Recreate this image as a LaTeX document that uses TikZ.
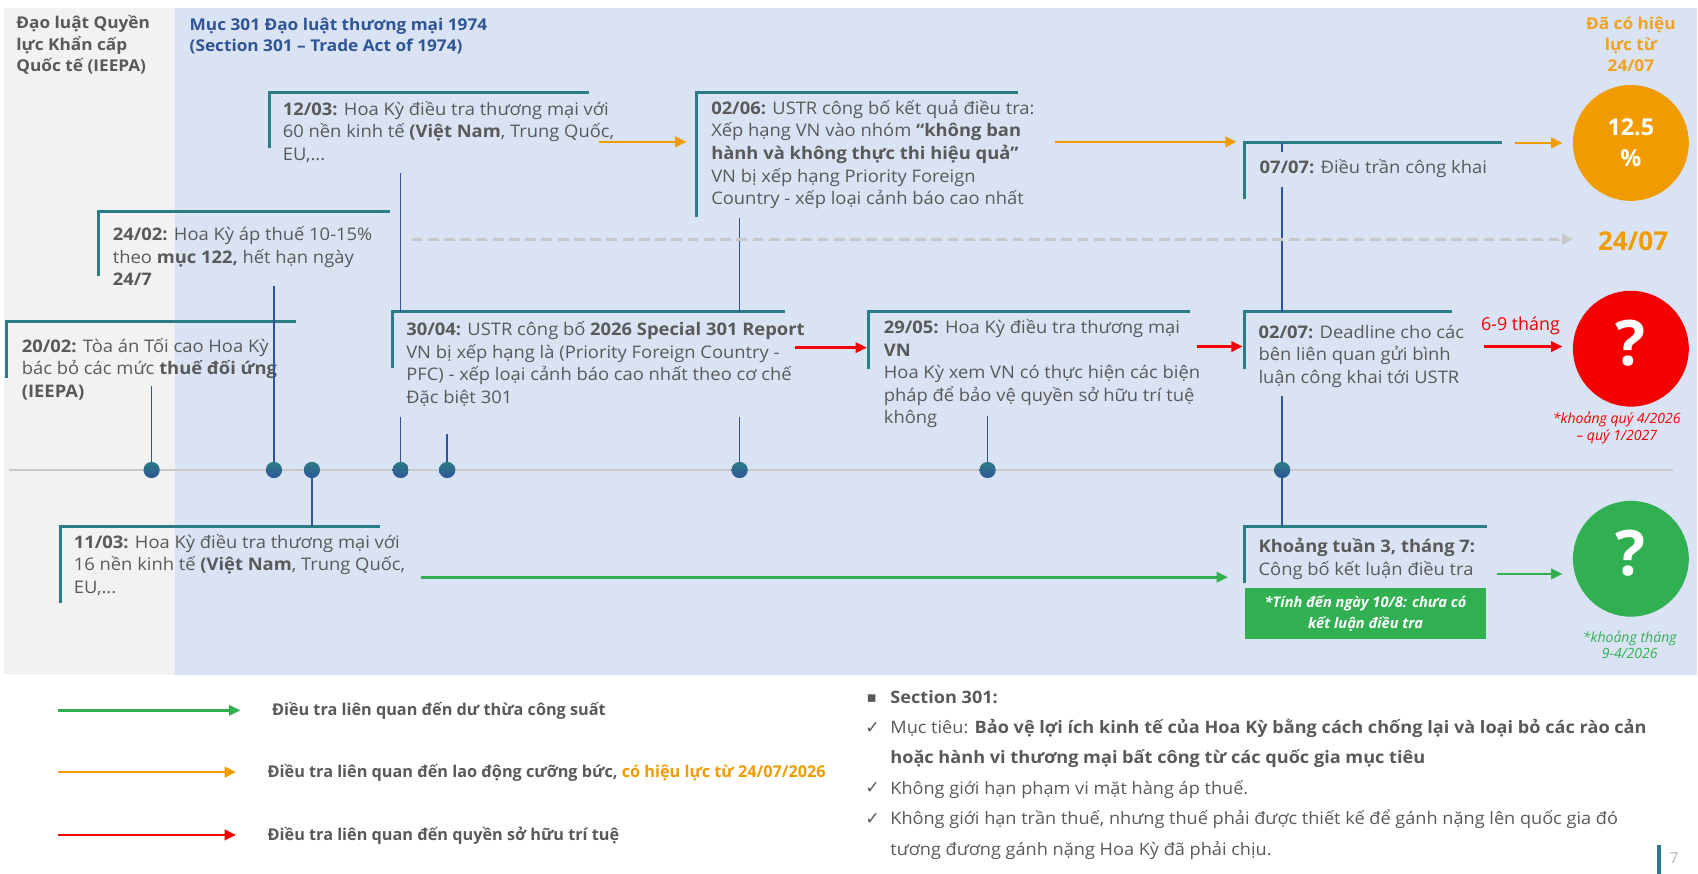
\documentclass[tikz,border=0pt]{standalone}
\usepackage{fontspec}
\setmainfont{Open Sans}
\newfontfamily\bodyfont{Open Sans}[FakeStretch=1.06]
\newfontfamily\symfont{DejaVu Sans}
\usetikzlibrary{arrows.meta}
\definecolor{bggray}{HTML}{F2F2F2}
\definecolor{bgblue}{HTML}{DAE3F3}
\definecolor{txtgray}{HTML}{595959}
\definecolor{boxteal}{HTML}{2B7C87}
\definecolor{stemblue}{HTML}{2F5597}
\definecolor{axisgray}{HTML}{C9C9C9}
\definecolor{dashgray}{HTML}{C8C8C8}
\definecolor{lineorange}{HTML}{F09B00}
\definecolor{hdorange}{HTML}{F0A21E}
\definecolor{linered}{HTML}{F50000}
\definecolor{linegreen}{HTML}{31B052}
\newcommand{\hs}{\rule{0pt}{16pt}}
\newcommand{\ds}{\rule[-8pt]{0pt}{8pt}}
\newcommand{\fsz}[2]{\fontsize{#1}{#2}\selectfont}

\begin{document}
\begin{tikzpicture}[x=1pt, y=-1pt]
	\tikzstyle{txt} = [anchor=north west, inner xsep=0pt, inner ysep=4pt, align=left, text=txtgray, font=\bodyfont\fsz{16}{20.8}]
	\tikzstyle{dot} = [circle, inner sep=0pt, minimum size=15pt, top color=boxteal, bottom color=stemblue]
	\tikzstyle{stem} = [stemblue, line width=1.5pt]
	\tikzstyle{bar} = [boxteal, line width=2.8pt]
	\tikzstyle{flow} = [line width=2.5pt, -{Triangle[length=10.5pt, width=9.5pt]}]
	\tikzstyle{ball} = [circle, inner sep=0pt, minimum size=107pt, text=white, font=\bfseries\fsz{58}{58}]
	\tikzstyle{note} = [anchor=north, align=center, inner sep=0pt, font=\itshape\fsz{13}{16}]
	\useasboundingbox (0,0) rectangle (1568,807);
	\fill[bggray] (4,7) rectangle (162,623); \fill[bgblue] (162,7) rectangle (1567,623);
	
	\node[txt, inner ysep=0pt, font=\bodyfont\bfseries\fsz{15}{20}] (tieepa) at (15,10) {\hs Đạo luật Quyền\\lực Khẩn cấp\\Quốc tế (IEEPA)};
	\node[txt, inner ysep=0pt, text=stemblue, font=\bodyfont\bfseries\fsz{15}{19.5}] (tmuc) at (175,11.5) {\hs Mục 301 Đạo luật thương mại 1974\\(Section 301 – Trade Act of 1974)};
	\node[anchor=north, align=center, inner sep=0pt, text=hdorange, font=\bodyfont\bfseries\fsz{15}{19.5}] (thieuluc) at (1506,11) {\hs Đã có hiệu\\lực từ\\24/07};
	
	\coordinate (c1203) at (249,85); \coordinate (c0206) at (643,85); \coordinate (c0707) at (1149,132); \coordinate (c2402) at (91,195); \coordinate (c2002) at (6,297);
	\coordinate (c3004) at (362,288); \coordinate (c2905) at (802,288); \coordinate (c0207) at (1149,288); \coordinate (c1103) at (56,486); \coordinate (ckhoang) at (1149,486);
	\foreach \c/\w/\h in {c1203/295/52, c0206/297/115, c0707/238/52, c2402/269/60, c2002/267/52, c3004/363/52, c2905/297/53, c0207/192/53, c1103/295/71, ckhoang/224/52}
		\draw[bar] (\c) ++(0,\h) -- (\c) -- ++(\w,0);
	
	\node[txt] (t1203) at (261,86) {\hs\textbf{12/03:} Hoa Kỳ điều tra thương mại với\\60 nền kinh tế \textbf{(Việt Nam}, Trung Quốc,\\EU,...\ds};
	\node[txt] (t0206) at (656.6,85.5) {\hs\textbf{02/06:} USTR công bố kết quả điều tra:\\Xếp hạng VN vào nhóm \textbf{“không ban}\\\textbf{hành và không thực thi hiệu quả”}\\VN bị xếp hạng Priority Foreign\\Country - xếp loại cảnh báo cao nhất\ds};
	\node[txt] (t0707) at (1163,140) {\hs\textbf{07/07:} Điều trần công khai\ds};
	\node[txt] (t2402) at (104,202) {\hs\textbf{24/02:} Hoa Kỳ áp thuế 10-15\%\\theo \textbf{mục 122,} hết hạn ngày\\\textbf{24/7}\ds};
	\node[txt] (t2002) at (20,305) {\hs\textbf{20/02:} Tòa án Tối cao Hoa Kỳ\\bác bỏ các mức \textbf{thuế đối ứng}\\\textbf{(IEEPA)}\ds};
	\node[txt] (t3004) at (375,290) {\hs\textbf{30/04:} USTR công bố \textbf{2026 Special 301 Report}\\VN bị xếp hạng là (Priority Foreign Country -\\PFC) - xếp loại cảnh báo cao nhất theo cơ chế\\Đặc biệt 301\ds};
	\node[txt] (t2905) at (816,288) {\hs\textbf{29/05:} Hoa Kỳ điều tra thương mại\\\textbf{VN}\\Hoa Kỳ xem VN có thực hiện các biện\\pháp để bảo vệ quyền sở hữu trí tuệ\\không\ds};
	\node[txt] (t0207) at (1162,292) {\hs\textbf{02/07:} Deadline cho các\\bên liên quan gửi bình\\luận công khai tới USTR\ds};
	\node[txt] (t1103) at (68,486) {\hs\textbf{11/03:} Hoa Kỳ điều tra thương mại với\\16 nền kinh tế \textbf{(Việt Nam}, Trung Quốc,\\EU,...\ds};
	\node[txt] (tkhoang) at (1162,490) {\hs\textbf{Khoảng tuần 3, tháng 7:}\\Công bố kết luận điều tra\ds};
	\node[fill=linegreen, minimum width=223pt, minimum height=47pt, inner sep=0pt, align=center, text=white, font=\bfseries\itshape\fsz{13.5}{20}] (gnote) at (1261,566.5) {*Tính đến ngày 10/8: chưa có\\kết luận điều tra};
	
	\draw[axisgray, line width=2.5pt] (8,434) -- (1545,434);
	\foreach \n/\x in {2002/140, 2402/253, 1103/288, 1203/370, 3004/413, 0206/683, 2905/912, 0207/1184}
		\node[dot] (d\n) at (\x,434) {};
	\draw[stem] (d2002 |- t2002.south) ++(0,-23) -- (d2002);
	\draw[stem] (d2402 |- t2402.south) ++(0,-12) -- (d2402);
	\draw[stem] (d1103) -- (d1103 |- c1103);
	\draw[stem] (t1203.south -| d1203) -- (c3004 -| d1203) (t3004.south -| d1203) -- (d1203);
	\draw[stem] (d3004 |- t3004.south) ++(0,16) -- (d3004);
	\draw[stem] (t0206.south -| d0206) -- (c3004 -| d0206) (t3004.south -| d0206) -- (d0206);
	\draw[stem] (d2905 |- t2905.south) ++(0,-19) -- (d2905);
	\draw[stem] (c0707 -| d0207) -- (t0707.north -| d0207) (t0707.south -| d0207) -- (c0207 -| d0207) (t0207.south -| d0207) -- (d0207) (d0207) -- (d0207 |- ckhoang);
	
	\node[ball, fill=lineorange, align=center, font=\bfseries\fsz{21.5}{29}] (b125) at (1506,132) {12.5\\\%};
	\node[ball, fill=linered, text depth=11pt] (bred) at (1506,322) {?};
	\node[ball, fill=linegreen, text depth=11pt] (bgreen) at (1506,516) {?};
	\node[anchor=base, inner sep=0pt, text=lineorange, font=\bfseries\fsz{24}{24}] (t2407) at (1508,231) {24/07};
	\node[anchor=base, inner sep=0pt, text=linered, font=\fsz{16.5}{20}] (t69) at (1404,305) {6-9 tháng};
	\node[note, text=linered] (tquy) at (1493,375) {\hs*khoảng quý 4/2026\\– quý 1/2027};
	\node[note, text=linegreen, font=\itshape\fsz{13}{15}] (tthang) at (1505,577) {\hs*khoảng tháng\\9-4/2026};
	
	\coordinate (o1) at (553,131); \coordinate (o2) at (974,131); \coordinate (o3) at (1399,132);
	\coordinate (r1) at (734,321); \coordinate (r2) at (1105,320); \coordinate (r3) at (1370,320);
	\coordinate (g1) at (389,533); \coordinate (g2) at (1382,530);
	\coordinate (ds1) at (380,221); \coordinate (ds2) at (1453,221);
	\draw[flow, lineorange, shorten >=9pt] (o1) -- (o1 -| c0206); \draw[flow, lineorange, shorten >=7pt] (o2) -- (o2 -| c0707); \draw[flow, lineorange, shorten >=9.5pt] (o3) -- (o3 -| b125.west);
	\draw[flow, linered, shorten >=1.5pt] (r1) -- (r1 -| c2905); \draw[flow, linered, shorten >=1.5pt] (r2) -- (r2 -| c0207); \draw[flow, linered, shorten >=9.5pt] (r3) -- (r3 -| bred.west);
	\draw[flow, linegreen, shorten >=15pt] (g1) -- (g1 -| ckhoang); \draw[flow, linegreen, shorten >=9.5pt] (g2) -- (g2 -| bgreen.west);
	\draw[flow, dashgray, dash pattern=on 10pt off 5pt] (ds1) -- (ds2);
	
	\node[anchor=base west, inner sep=0pt, text=txtgray, font=\bfseries\fsz{15}{18}] (lg1) at (251,661) {Điều tra liên quan đến dư thừa công suất};
	\node[anchor=base west, inner sep=0pt, text=txtgray, font=\bfseries\fsz{15}{18}] (lg2) at (247,718) {Điều tra liên quan đến lao động cưỡng bức, \textcolor{lineorange}{có hiệu lực từ 24/07/2026}};
	\node[anchor=base west, inner sep=0pt, text=txtgray, font=\bfseries\fsz{15}{18}] (lg3) at (247,776) {Điều tra liên quan đến quyền sở hữu trí tuệ};
	\foreach \c/\y/\n in {linegreen/656/1, lineorange/713/2, linered/771/3} {
		\coordinate (a\n) at (54,\y);
		\draw[flow, \c, shorten >=29pt] (a\n) -- (a\n -| lg\n.west);
	}
	
	\node[txt, inner ysep=0pt, font=\bodyfont\fsz{15.8}{28.1}] (tsec) at (822,633) {\hs\textbf{Section 301:}\\Mục tiêu: \textbf{Bảo vệ lợi ích kinh tế của Hoa Kỳ bằng cách chống lại và loại bỏ các rào cản}\\\textbf{hoặc hành vi thương mại bất công từ các quốc gia mục tiêu}\\Không giới hạn phạm vi mặt hàng áp thuế.\\Không giới hạn trần thuế, nhưng thuế phải được thiết kế để gánh nặng lên quốc gia đó\\tương đương gánh nặng Hoa Kỳ đã phải chịu.};
	\node[anchor=base west, inner sep=0pt, text=txtgray, font=\symfont\fsz{14}{14}] (bsq) at (800,649) {▪};
	\foreach \y/\n in {677/1, 733/2, 761/3}
		\node[anchor=base west, inner sep=0pt, text=txtgray, font=\symfont\fsz{16}{16}] (ck\n) at (799,\y) {✓};
	\coordinate (pg1) at (1532,780); \coordinate (pg2) at (1532,807);
	\draw[boxteal, line width=3pt] (pg1) -- (pg2);
	\node[text=black!30, font=\fsz{14}{14}] (pnum) at (1546,792) {7};
\end{tikzpicture}
\end{document}
